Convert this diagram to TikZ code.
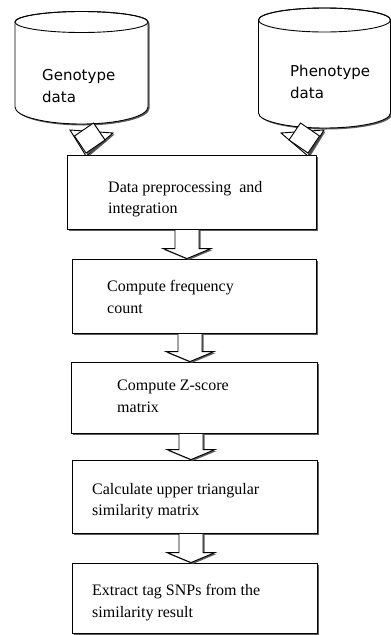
\documentclass[tikz,border=0pt]{standalone}
\usepackage{fontspec}
\setmainfont{Liberation Serif}
\newfontfamily\dvsans{DejaVu Sans}
\usetikzlibrary{calc,shadows}
\newcommand\blockdown[3]{%
  \path[blk] let \p1=(#2.south), \p2=(#3.north) in
   (#1pt-12pt,\y1) -- (#1pt+12pt,\y1) -- (#1pt+12pt,\y2+10pt) -- (#1pt+24pt,\y2+10pt)
   -- (#1pt,\y2) -- (#1pt-24pt,\y2+10pt) -- (#1pt-12pt,\y2+10pt) -- cycle;}
\begin{document}
\begin{tikzpicture}[x=1pt,y=-1pt,
  shd/.style={drop shadow={shadow xshift=1.5pt,shadow yshift=-1.5pt,fill=black!70,opacity=0.9}},
  box/.style={draw=black,line width=0.9pt,fill=white,shd,inner sep=0pt},
  lbl/.style={font=\fontsize{16}{21.5}\selectfont,align=left,anchor=base west,inner sep=0pt},
  dblbl/.style={font=\dvsans\fontsize{15}{22}\selectfont,align=left,anchor=base west,inner sep=0pt},
  blk/.style={draw=black,line width=0.9pt,fill=white,line join=miter,shd}]
\useasboundingbox (0,0) rectangle (391,635);

% cylinders
\path[blk] (15,22) -- (15,107) arc[start angle=180,end angle=360,x radius=66.5pt,y radius=17pt]
  -- (148,22) arc[start angle=0,end angle=180,x radius=66.5pt,y radius=10.5pt] -- cycle;
\draw[line width=0.9pt] (81.5,22) ellipse[x radius=66.5pt,y radius=10.5pt];
\path[blk] (258.5,20) -- (258.5,113) arc[start angle=180,end angle=360,x radius=66pt,y radius=15pt]
  -- (390.5,20) arc[start angle=0,end angle=180,x radius=66pt,y radius=12pt] -- cycle;
\draw[line width=0.9pt] (324.5,20) ellipse[x radius=66pt,y radius=12pt];
\node[dblbl] (gt) at (42,102) {Genotype\\data};
\node[dblbl] (pt) at (290,98) {Phenotype\\data};

% diagonal block arrows
\path[blk] (70,130) -- (113,133) -- (86,156) -- cycle;
\path[blk] (93.5,123) -- (105,140) -- (86,153) -- (74.5,136) -- cycle;
\path[blk] (324,130) -- (281,133) -- (308,156) -- cycle;
\path[blk] (300.5,123) -- (289,140) -- (308,153) -- (319.5,136) -- cycle;

% boxes
\node[box,minimum width=249pt,minimum height=74pt] (b1) at (191.5,192) {};
\node[box,minimum width=244pt,minimum height=74pt] (b2) at (194,296) {};
\node[box,minimum width=246pt,minimum height=71pt] (b3) at (194,397.5) {};
\node[box,minimum width=245pt,minimum height=73pt] (b4) at (194.5,496.5) {};
\node[box,minimum width=245pt,minimum height=70pt] (b5) at (194.5,598) {};

\node[lbl] (t1) at (108,213.5) {Data preprocessing~ and\\integration};
\node[lbl] (t2) at (107,313) {Compute frequency\\count};
\node[lbl] (t3) at (117,412) {Compute Z-score\\matrix};
\node[lbl] (t4) at (92,515.5) {Calculate upper triangular\\similarity matrix};
\node[lbl] (t5) at (92,617) {Extract tag SNPs from the\\similarity result};

% vertical block arrows
\blockdown{187}{b1}{b2}
\blockdown{190}{b2}{b3}
\blockdown{191}{b3}{b4}
\blockdown{191}{b4}{b5}
\end{tikzpicture}
\end{document}
